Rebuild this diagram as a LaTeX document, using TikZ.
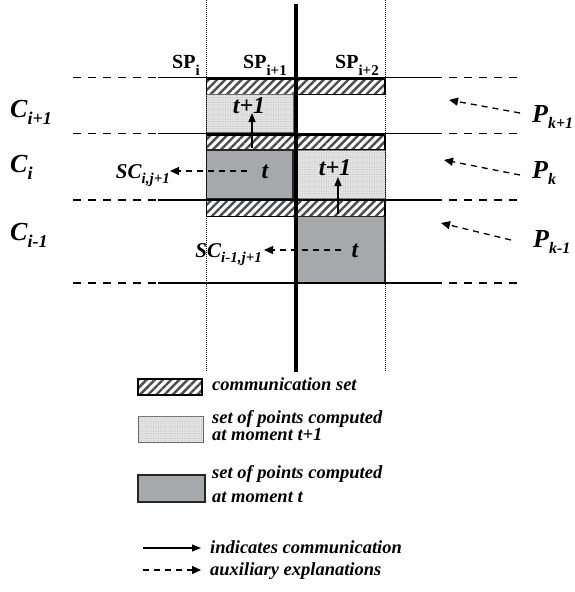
\documentclass[tikz,border=0pt]{standalone}
\usepackage{fontspec}
\setmainfont{Liberation Serif}
\usetikzlibrary{patterns.meta,arrows.meta}
\definecolor{darkfill}{RGB}{167,168,171}
\definecolor{lightfill}{RGB}{228,228,228}
\newcommand{\lowered}[3]{\raisebox{-#1pt}{\fontsize{#2}{#2}\selectfont #3}}
\tikzset{
  hatchbox/.style={draw=black, line width=1.2pt, pattern={Lines[angle=45,distance=5.8pt,line width=2.4pt]}, pattern color=black!70},
  lightbox/.style={draw=black!60, line width=0.8pt, fill=lightfill, postaction={pattern={Dots[distance=2.4pt,radius=0.5pt]}, pattern color=black!30}},
  darkbox/.style={draw=black!85, line width=1.2pt, fill=darkfill},
  gridline/.style={line width=1.5pt},
  dashline/.style={line width=1.5pt, dash pattern=on 8pt off 7pt},
  dotline/.style={line width=0.6pt, dash pattern=on 0.6pt off 1.4pt},
  thickline/.style={line width=4.2pt},
  auxarrow/.style={line width=1.3pt, dash pattern=on 6pt off 5pt, -{Triangle[length=9pt,width=8pt]}},
  comarrow/.style={line width=1.3pt, -{Triangle[length=9pt,width=7pt]}},
  biglab/.style={font=\fontsize{26}{26}\selectfont\bfseries\itshape, inner sep=0pt, anchor=base west},
  splab/.style={font=\fontsize{20}{20}\selectfont\bfseries, inner sep=0pt, anchor=base west},
  sclab/.style={font=\fontsize{21}{21}\selectfont\bfseries\itshape, inner sep=0pt, anchor=base east},
  tlab/.style={font=\fontsize{24}{24}\selectfont\bfseries\itshape, inner sep=0pt, anchor=base},
  leglab/.style={font=\fontsize{18.5}{17}\selectfont\bfseries\itshape, inner sep=0pt, anchor=base west, align=left},
}
\begin{document}
\begin{tikzpicture}[x=1pt,y=-1pt]
\useasboundingbox (0,0) rectangle (574,592);
% cells
\path[hatchbox] (206.7,79) rectangle (385,94.3);
\path[lightbox] (206.7,94.3) rectangle (293,132.3);
\path[hatchbox] (206.7,135) rectangle (385,150);
\path[darkbox] (206.7,150) rectangle (293,198.3);
\path[lightbox] (296.7,150) rectangle (385,198.3);
\path[hatchbox] (206.7,200.7) rectangle (385,216.7);
\path[darkbox] (296.7,216.7) rectangle (385,282.7);
% horizontal lines
\foreach \yy in {77.5,133.5,200,283}{
  \draw[dashline] (73,\yy) -- (158,\yy);
  \draw[gridline] (158,\yy) -- (434,\yy);
  \draw[dashline] (434,\yy) -- (520,\yy);
}
% vertical lines
\draw[dotline] (206,0) -- (206,372);
\draw[dotline] (385,0) -- (385,372);
\draw[thickline] (296,4) -- (296,372);
% column labels
\node[splab] (spi) at (172,68) {SP\lowered{7}{15}{i}};
\node[splab] (spi1) at (243,68) {SP\lowered{7}{15}{i+1}};
\node[splab] (spi2) at (335,68) {SP\lowered{7}{15}{i+2}};
% row labels
\node[biglab] (ci1) at (10,117) {C\lowered{7}{18}{i+1}};
\node[biglab] (ci) at (10,172) {C\lowered{7}{18}{i}};
\node[biglab] (cim1) at (10,240) {C\lowered{7}{18}{i-1}};
% processor labels
\node[biglab] (pk1) at (532,122) {P\lowered{6}{16}{k+1}};
\node[biglab] (pk) at (532,178) {P\lowered{6}{16}{k}};
\node[biglab] (pkm1) at (533,247) {P\lowered{6}{16}{k-1}};
\coordinate (pk1t) at (520,113);
\coordinate (pk1h) at (449,100);
\coordinate (pkt) at (520,175);
\coordinate (pkh) at (444,160);
\coordinate (pkm1t) at (511,240);
\coordinate (pkm1h) at (441,223);
\draw[auxarrow] (pk1t) -- (pk1h);
\draw[auxarrow] (pkt) -- (pkh);
\draw[auxarrow] (pkm1t) -- (pkm1h);
% t labels
\node[tlab] (tup) at (249,113) {t+1};
\node[tlab] (tgr) at (265,178) {t};
\node[tlab] (tri) at (335,175) {t+1};
\node[tlab] (tlo) at (355,257) {t};
% communication arrows
\coordinate (c1s) at (252,148);
\coordinate (c1e) at (252,113);
\coordinate (c2s) at (338,214);
\coordinate (c2e) at (338,177);
\draw[comarrow] (c1s) -- (c1e);
\draw[comarrow] (c2s) -- (c2e);
% SC labels
\node[sclab] (sc1) at (170,178) {SC\lowered{5}{15}{i,j+1}};
\node[sclab] (sc2) at (262,257) {SC\lowered{5}{15}{i-1,j+1}};
\coordinate (a1s) at (247,171);
\coordinate (a2s) at (341,250);
\draw[auxarrow] (a1s) -- (sc1.east |- a1s);
\draw[auxarrow] (a2s) -- ([xshift=2pt]sc2.east |- a2s);
% legend
\path[hatchbox] (138,379) rectangle (202,395);
\path[lightbox] (138,416) rectangle (203,442);
\path[darkbox] (138,475) rectangle (205,502);
\node[leglab] (l1) at (212,390) {communication set};
\node[leglab, anchor=north west] (l2) at (212,410.5) {set of points computed\\at moment t+1};
\node[leglab, anchor=north west] (l3) at (212,465.5) {set of points computed\\[7pt]at moment t};
\coordinate (la1s) at (143,548);
\coordinate (la1e) at (201,548);
\coordinate (la2s) at (143,570);
\coordinate (la2e) at (201,570);
\draw[comarrow] (la1s) -- (la1e);
\draw[auxarrow] (la2s) -- (la2e);
\node[leglab] (l4) at (210,553) {indicates communication};
\node[leglab] (l5) at (210,575) {auxiliary explanations};
\end{tikzpicture}
\end{document}
